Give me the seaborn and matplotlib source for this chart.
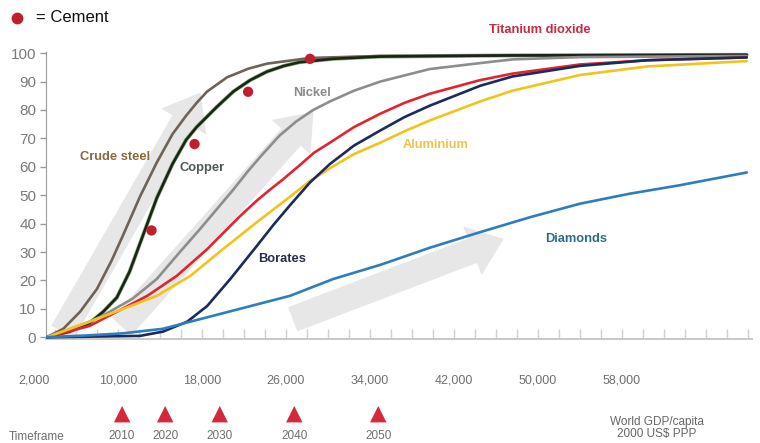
import matplotlib
matplotlib.use("Agg")
import matplotlib.pyplot as plt
import matplotlib.transforms as mtransforms
from matplotlib.ticker import MultipleLocator
import seaborn as sns
import pandas as pd

# World GDP/capita (2000 US$ PPP) vs. share of saturation (%)
steel_gdp = [3200, 4800, 6400, 8000, 9400, 10500, 12100, 13700, 15200, 16500, 17500, 18500, 20400, 22400, 24200, 28300, 35000, 47600, 69900]
steel_val = [0, 3, 9, 17, 27, 36, 49.5, 61.5, 71.5, 78, 82.5, 86.5, 91.5, 94.5, 96.3, 98.3, 99, 99.2, 99.4]

copper_gdp = [3200, 5400, 7300, 8600, 9900, 11100, 12400, 13700, 15200, 16500, 17500, 19400, 21000, 22600, 24200, 25800, 27300, 30500, 35000, 47600, 69900]
copper_val = [0, 2, 5, 9, 14, 23, 36, 49, 61, 69.5, 74, 81, 86.5, 90.5, 93.5, 95.5, 96.8, 98, 98.8, 99.2, 99.4]

nickel_gdp = [3200, 4800, 7300, 8600, 11400, 13700, 15900, 17800, 19400, 21000, 22400, 23800, 25400, 27000, 28600, 30200, 32500, 35000, 39700, 44500, 47600, 54000, 69900]
nickel_val = [0, 2, 5.5, 7.7, 13.6, 20.5, 30, 38, 45, 52, 58.5, 64.5, 71, 76, 80, 83, 86.8, 90, 94.4, 96.5, 97.8, 98.6, 99]

tio2_gdp = [3200, 7300, 9900, 12800, 15600, 18500, 21600, 23200, 24500, 25700, 27300, 28700, 30200, 32500, 35000, 37300, 39700, 44500, 47600, 54000, 60400, 69900]
tio2_val = [0, 4, 9, 14.6, 21.6, 31, 42.5, 48, 52, 55.5, 60.5, 65, 68.5, 74, 78.7, 82.5, 85.7, 90.5, 92.8, 96, 97.5, 98.5]

alu_gdp = [3200, 7300, 10500, 13700, 16900, 20000, 23200, 26400, 28300, 30200, 32500, 35000, 37300, 39700, 44500, 47600, 54000, 60400, 69900]
alu_val = [0, 5.5, 10, 14.6, 21.6, 31, 40.4, 49.5, 55, 59.5, 64.5, 68.5, 72.5, 76.3, 83, 86.8, 92.3, 95.3, 97.2]

borates_gdp = [3200, 12100, 14300, 16600, 18500, 20700, 23200, 24800, 26400, 28300, 30200, 32500, 35000, 37300, 39700, 44500, 47600, 54000, 60400, 69900]
borates_val = [0, 0.5, 2, 5.5, 11, 20.5, 32, 39.5, 46.5, 54.5, 61, 67.5, 72.8, 77.5, 81.5, 88.5, 91.8, 95.5, 97.5, 98.5]

diamonds_gdp = [3200, 7300, 10500, 14300, 16900, 21600, 26400, 30500, 35000, 39700, 44500, 49300, 54000, 58700, 63500, 69900]
diamonds_val = [0, 0.7, 1.4, 3, 5.5, 10, 14.6, 20.5, 25.5, 31.5, 37, 42.3, 47, 50.5, 53.5, 58]

cement_gdp = [13200, 17300, 22400, 28300]
cement_val = [37.6, 68, 86.4, 98]

x_ticks = [2000, 10000, 18000, 26000, 34000, 42000, 50000, 58000]
x_labels = ["2,000", "10,000", "18,000", "26,000", "34,000", "42,000", "50,000", "58,000"]
timeframe_gdp = [10400, 14500, 19700, 26800, 34800]
timeframe_years = ["2010", "2020", "2030", "2040", "2050"]

metals = ["Crude steel", "Copper", "Nickel", "Titanium dioxide", "Aluminium", "Borates", "Diamonds"]
series = [(steel_gdp, steel_val), (copper_gdp, copper_val), (nickel_gdp, nickel_val),
          (tio2_gdp, tio2_val), (alu_gdp, alu_val), (borates_gdp, borates_val),
          (diamonds_gdp, diamonds_val)]

line_colors = {"Crude steel": "#6e6259", "Copper": "#1c2419", "Nickel": "#8d8d8d",
               "Titanium dioxide": "#e1252f", "Aluminium": "#f1c41c", "Borates": "#1b2b5c",
               "Diamonds": "#2f7cc0"}

frames = []
for name, (gx, gy) in zip(metals, series):
    frames.append(pd.DataFrame({"gdp": gx, "share": gy, "metal": name}))
df = pd.concat(frames, ignore_index=True)

sns.set_style("white")
plt.rcParams["font.family"] = ["Liberation Sans", "DejaVu Sans"]

fig = plt.figure(figsize=(7.6, 4.43), dpi=100)
ax = fig.add_axes([46 / 760, 104 / 443, 706 / 760, 287 / 443])

# pale grey trend arrows behind the curves
arrow_kw = dict(arrowstyle="simple,head_length=1.1,head_width=1.7,tail_width=0.85",
                fc="#e3e3e3", ec="none", alpha=0.85, mutation_scale=22)
ax.annotate("", xy=(18000, 87), xytext=(4600, 1), arrowprops=arrow_kw, zorder=1)
ax.annotate("", xy=(28800, 80), xytext=(10200, 3), arrowprops=arrow_kw, zorder=1)
ax.annotate("", xy=(47000, 35), xytext=(26400, 6), arrowprops=arrow_kw, zorder=1)

# faint green halo under the copper line
sns.lineplot(data=df[df.metal == "Copper"], x="gdp", y="share", color="#8fb67f",
             linewidth=2.9, estimator=None, ax=ax, zorder=2)
sns.lineplot(data=df, x="gdp", y="share", hue="metal", palette=line_colors,
             hue_order=metals, linewidth=1.9, estimator=None, legend=False, ax=ax, zorder=3)

sns.scatterplot(x=cement_gdp, y=cement_val, color="#c11f2e", s=55, edgecolor="none",
                ax=ax, zorder=5)

ax.set_xlim(3150, 70400)
ax.set_ylim(-0.6, 100.4)
ax.set_yticks(range(0, 101, 10))
ax.set_xticks([])
ax.xaxis.set_minor_locator(MultipleLocator(2000))
ax.tick_params(axis="x", which="minor", direction="in", length=7, color="#d0d0d0", width=1, bottom=True)
ax.tick_params(axis="y", which="major", direction="out", length=4, color="#9a9a9a", width=1,
               labelsize=11, labelcolor="#7a7a7a", left=True, pad=3)
ax.set_xlabel("")
ax.set_ylabel("")
sns.despine(ax=ax, top=True, right=True)
ax.spines["left"].set_color("#9a9a9a")
ax.spines["bottom"].set_color("#c8c8c8")
ax.spines["bottom"].set_linewidth(1.4)

# series labels
label_style = [("Crude steel", 9700, 63.4, "#8a6838"), ("Copper", 18000, 59.6, "#4d5a58"),
               ("Nickel", 28500, 86, "#8a8a8a"), ("Titanium dioxide", 50200, 108, "#c82a3f"),
               ("Aluminium", 40300, 67.6, "#e9c64a"), ("Borates", 25600, 27.5, "#262d4d"),
               ("Diamonds", 53600, 34.5, "#2e6c85")]
for text, lx, ly, col in label_style:
    ax.text(lx, ly, text, color=col, fontsize=9.3, fontweight="bold", ha="center",
            va="center", clip_on=False, zorder=6)

# x labels, timeframe row
trans = mtransforms.blended_transform_factory(ax.transData, ax.transAxes)
for xv, lab in zip(x_ticks, x_labels):
    ax.text(xv, -0.146, lab, transform=trans, ha="center", va="center", fontsize=9,
            color="#6f6f6f")
ax.scatter(timeframe_gdp, [-0.262] * len(timeframe_gdp), transform=trans, marker="^",
           s=140, color="#d4283d", edgecolor="none", clip_on=False, zorder=5)
for xv, yr in zip(timeframe_gdp, timeframe_years):
    ax.text(xv, -0.337, yr, transform=trans, ha="center", va="center", fontsize=8.5,
            color="#6f6f6f")
fig.text(37 / 760, 1 - 437 / 443, "Timeframe", ha="center", va="center", fontsize=8.5,
         color="#6f6f6f")
fig.text(657 / 760, 1 - 428 / 443, "World GDP/capita\n2000 US$ PPP", ha="center",
         va="center", fontsize=8.5, color="#666666", linespacing=1.05)

# cement legend
fig.add_artist(plt.Line2D([17 / 760], [1 - 18 / 443], marker="o", markersize=7.5,
                          color="#c11f2e", linestyle="none", transform=fig.transFigure))
fig.text(36 / 760, 1 - 18 / 443, "= Cement", ha="left", va="center", fontsize=12,
         color="#111111")

fig.savefig("out.png", dpi=100, facecolor="white")
